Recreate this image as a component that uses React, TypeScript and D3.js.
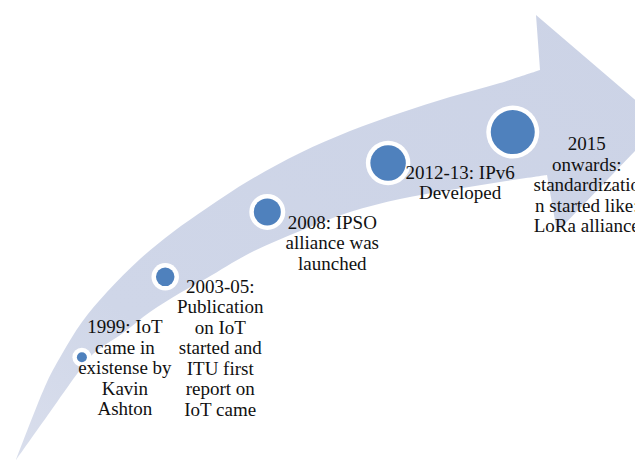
import React from "react";
import * as d3 from "d3";

// ---- data ----
const years = ["1999", "2003-05", "2008", "2012-13", "2015"];
const descriptions: string[][] = [
  ["1999: IoT", "came in", "existense by", "Kavin", "Ashton"],
  ["2003-05:", "Publication", "on IoT", "started and", "ITU first", "report on", "IoT came"],
  ["2008: IPSO", "alliance was", "launched"],
  ["2012-13: IPv6", "Developed"],
  ["2015", "onwards:", "standardizatio", "n started like:", "LoRa alliance"],
];
// progress of each milestone along the arrow (percent of tail→tip)
const progress = [10.2, 23.1, 38.9, 57.6, 76.9];
// milestone emphasis (grows over time)
const emphasis = [1, 2, 3, 4, 5];

// ---- geometry of the arrow shape ----
const W = 635;
const H = 461;
const upperEdge: [number, number][] = [
  [16, 460], [47, 382], [62, 354], [82, 322], [107, 292], [140, 259], [173, 232],
  [207, 208], [250, 180], [300, 153], [350, 131], [400, 113], [450, 97], [500, 83], [540, 70],
];
const arrowHead: [number, number][] = [[536, 15], [662, 123], [557, 232]];
const lowerEdge: [number, number][] = [
  [547, 175], [500, 182], [450, 190], [400, 199], [350, 212], [300, 231], [250, 253],
  [207, 278], [180, 293], [150, 312], [123, 333], [93, 354], [77, 374], [50, 412], [16, 460],
];
const spineX = [16, 82, 165, 267, 388, 513, 662];
const spineY = [460, 357, 277, 212, 163, 132, 123];

const labelDx = [43, 55, 65, 72, 74];
const labelDy = [-24, 16, 17, 16, 18];
const lineGap = 20.5;

export default function App() {
  const xScale = d3.scaleLinear().domain([0, 100]).range([16, 662]);
  const spine = d3.scaleLinear().domain(spineX).range(spineY);
  const rScale = d3.scaleLinear().domain([1, 5]).range([5, 22]);

  const edge = d3.line().curve(d3.curveCatmullRom.alpha(0.5));
  const upperPath = edge(upperEdge) as string;
  const lowerPath = edge(lowerEdge) as string;
  const head = arrowHead.map((p) => `L${p[0]},${p[1]}`).join("");
  const shape = upperPath + head + "L" + lowerPath.slice(1) + "Z";

  return (
    <svg
      width={W}
      height={H}
      style={{ position: "fixed", left: 0, top: 0, background: "#fff" }}
      fontFamily="'Liberation Serif', 'Times New Roman', serif"
    >
      <defs>
        <linearGradient id="band" x1="0" y1="1" x2="1" y2="0">
          <stop offset="0" stopColor="#d9deec" />
          <stop offset="0.25" stopColor="#cfd6e8" />
          <stop offset="1" stopColor="#ccd3e6" />
        </linearGradient>
      </defs>
      <rect width={W} height={H} fill="#fff" />
      <path d={shape} fill="url(#band)" />
      {years.map((y, i) => {
        const cx = xScale(progress[i]);
        const cy = spine(cx);
        const r = rScale(emphasis[i]);
        return (
          <g key={y}>
            <circle cx={cx} cy={cy} r={r + 4.5} fill="#fff" />
            <circle cx={cx} cy={cy} r={r} fill="#4f81bd" />
          </g>
        );
      })}
      {years.map((y, i) => {
        const cx = xScale(progress[i]);
        const cy = spine(cx);
        return (
          <text
            key={"t" + y}
            x={cx + labelDx[i]}
            y={cy + labelDy[i]}
            fontSize={19}
            textAnchor="middle"
            fill="#111"
          >
            {descriptions[i].map((line, j) => (
              <tspan key={j} x={cx + labelDx[i]} dy={j === 0 ? 0 : lineGap}>
                {line}
              </tspan>
            ))}
          </text>
        );
      })}
    </svg>
  );
}
